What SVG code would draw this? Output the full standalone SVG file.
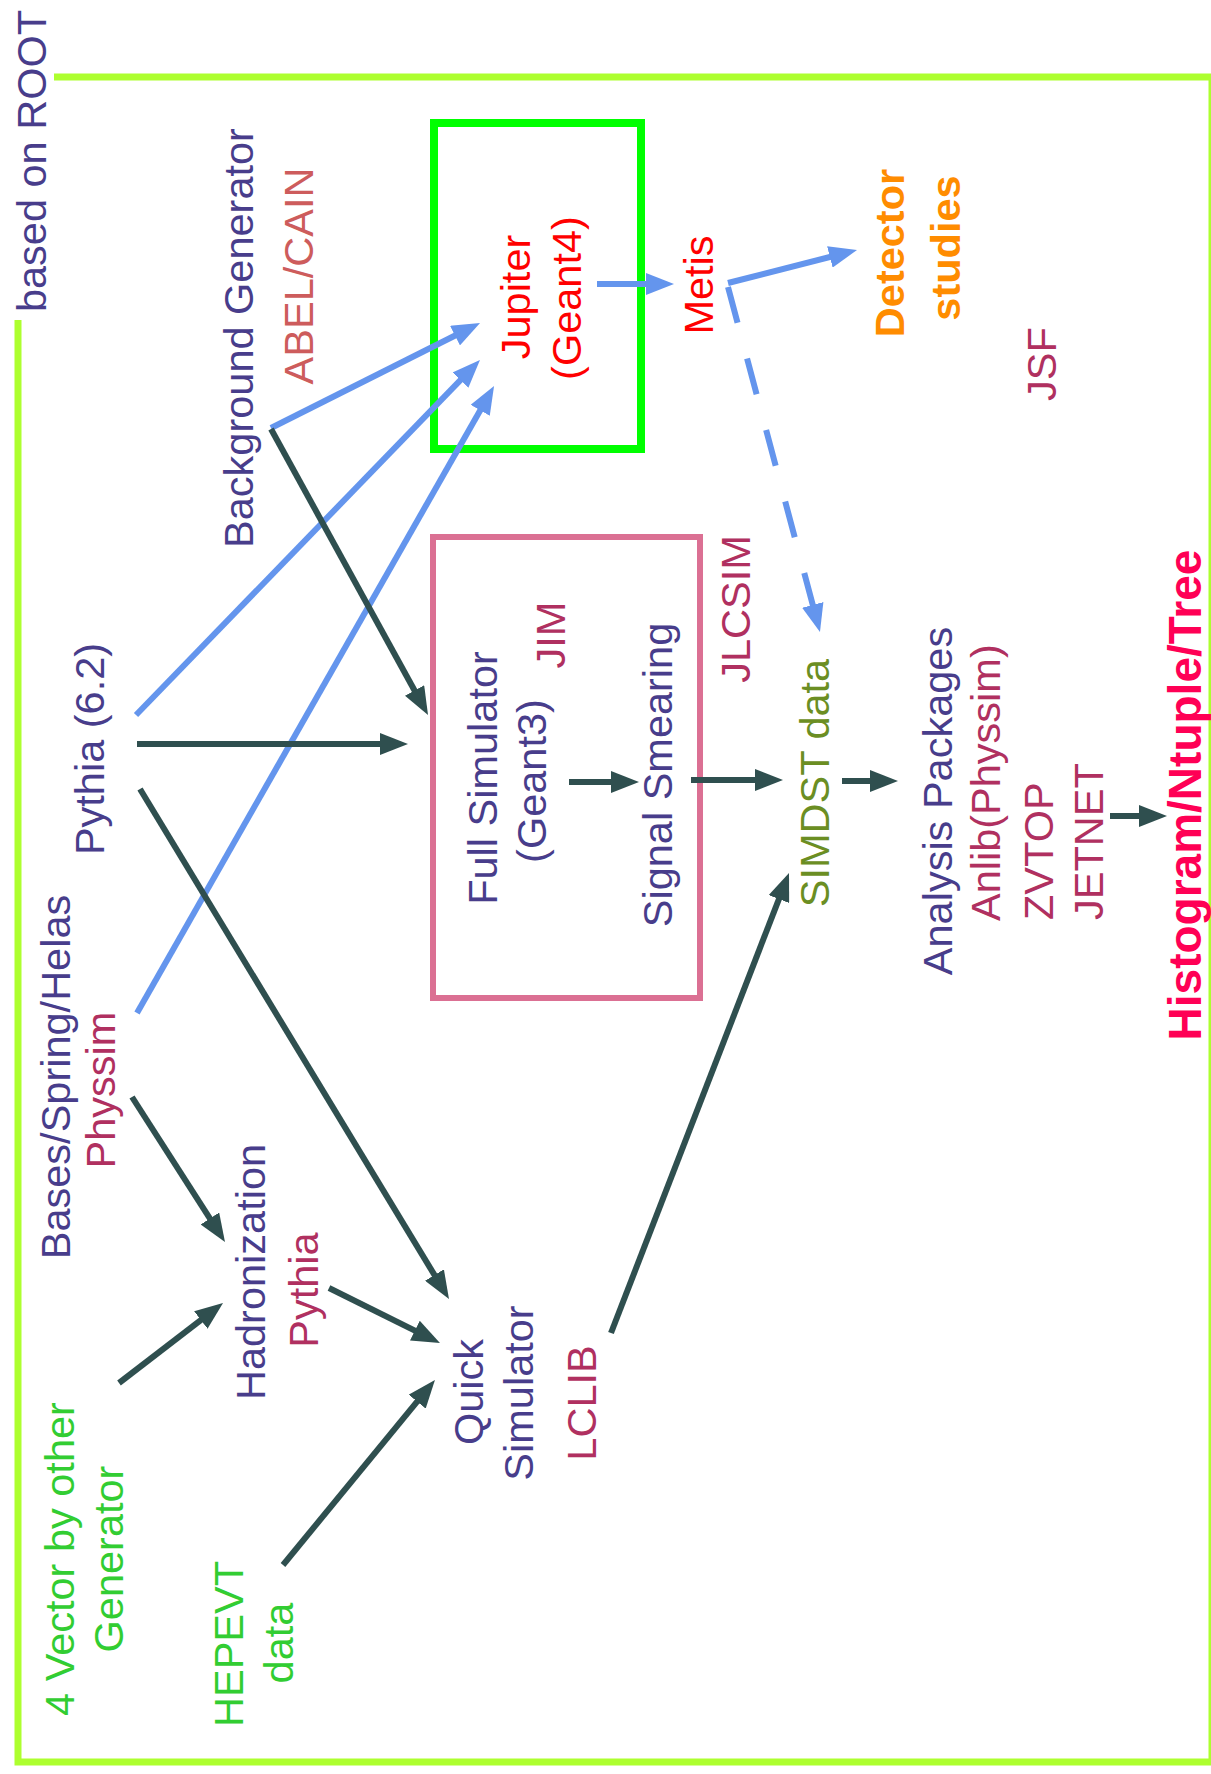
<svg xmlns="http://www.w3.org/2000/svg" width="1211" height="1774" viewBox="0 0 1211 1774">
<style>
text { font-family: "Liberation Sans", Arial, sans-serif; font-size: 41.5px; }
.t-slate { fill: #483d8b; }
.t-maroon { fill: #b03060; }
.t-red { fill: #ff0000; }
.t-indian { fill: #cd5c5c; }
.t-orange { fill: #ff8c00; font-weight: bold; }
.t-olive { fill: #6b8e23; }
.t-lime { fill: #32cd32; }
.t-hist { fill: #ff0055; font-weight: bold; font-size: 46px; }
.dark { stroke: #2f4f4f; stroke-width: 6; fill: none; marker-end: url(#ah-dark); }
.blue { stroke: #6495ed; stroke-width: 6; fill: none; marker-end: url(#ah-blue); }
.dash { stroke-dasharray: 37 37; }
.frame { stroke: #adff2f; stroke-width: 7; fill: none; }
</style>
<defs>
<marker id="ah-dark" markerUnits="userSpaceOnUse" markerWidth="28" markerHeight="22" refX="18" refY="11" orient="auto">
<path d="M0,0 L28,11 L0,22 z" fill="#2f4f4f"/>
</marker>
<marker id="ah-blue" markerUnits="userSpaceOnUse" markerWidth="28" markerHeight="22" refX="18" refY="11" orient="auto">
<path d="M0,0 L28,11 L0,22 z" fill="#6495ed"/>
</marker>
</defs>
<rect x="0" y="0" width="1211" height="1774" fill="#ffffff"/>

<g id="frame">
<path class="frame" d="M54,77 H1212 V1762 H18 V320"/>
<text class="t-slate" transform="translate(46,161) rotate(-90)" text-anchor="middle">based on ROOT</text>
</g>

<g id="jupiter-box">
<rect x="434" y="123" width="207" height="326" fill="none" stroke="#00ff00" stroke-width="8"/>
<text class="t-red" transform="translate(530,297) rotate(-90)" text-anchor="middle">Jupiter</text>
<text class="t-red" transform="translate(581,298) rotate(-90)" text-anchor="middle">(Geant4)</text>
</g>

<g id="jlcsim-box">
<rect x="433" y="537" width="267" height="461" fill="none" stroke="#db7093" stroke-width="6"/>
</g>

<g id="full-simulator">
<text class="t-slate" transform="translate(497,778) rotate(-90)" text-anchor="middle">Full Simulator</text>
<text class="t-slate" transform="translate(546,781) rotate(-90)" text-anchor="middle">(Geant3)</text>
<text class="t-maroon" transform="translate(565,635) rotate(-90)" text-anchor="middle">JIM</text>
</g>

<g id="signal-smearing">
<text class="t-slate" transform="translate(672,775) rotate(-90)" text-anchor="middle">Signal Smearing</text>
</g>

<g id="jlcsim-label">
<text class="t-maroon" transform="translate(750,609) rotate(-90)" text-anchor="middle">JLCSIM</text>
</g>

<g id="background-generator">
<text class="t-slate" transform="translate(253,338) rotate(-90)" text-anchor="middle">Background Generator</text>
<text class="t-indian" transform="translate(313,276) rotate(-90)" text-anchor="middle">ABEL/CAIN</text>
</g>

<g id="metis">
<text class="t-red" transform="translate(713,285) rotate(-90)" text-anchor="middle">Metis</text>
</g>

<g id="detector-studies">
<text class="t-orange" transform="translate(904,253) rotate(-90)" text-anchor="middle">Detector</text>
<text class="t-orange" transform="translate(960,248) rotate(-90)" text-anchor="middle">studies</text>
</g>

<g id="jsf">
<text class="t-maroon" transform="translate(1056,364) rotate(-90)" text-anchor="middle">JSF</text>
</g>

<g id="pythia62">
<text class="t-slate" transform="translate(104,749) rotate(-90)" text-anchor="middle">Pythia (6.2)</text>
</g>

<g id="bases">
<text class="t-slate" transform="translate(70,1077) rotate(-90)" text-anchor="middle">Bases/Spring/Helas</text>
<text class="t-maroon" transform="translate(115,1090) rotate(-90)" text-anchor="middle">Physsim</text>
</g>

<g id="hadronization">
<text class="t-slate" transform="translate(265,1272) rotate(-90)" text-anchor="middle">Hadronization</text>
<text class="t-maroon" transform="translate(318,1290) rotate(-90)" text-anchor="middle">Pythia</text>
</g>

<g id="four-vector">
<text class="t-lime" transform="translate(74,1559) rotate(-90)" text-anchor="middle">4 Vector by other</text>
<text class="t-lime" transform="translate(123,1559) rotate(-90)" text-anchor="middle">Generator</text>
</g>

<g id="hepevt">
<text class="t-lime" transform="translate(243,1644) rotate(-90)" text-anchor="middle">HEPEVT</text>
<text class="t-lime" transform="translate(293,1643) rotate(-90)" text-anchor="middle">data</text>
</g>

<g id="quick-simulator">
<text class="t-slate" transform="translate(483,1392) rotate(-90)" text-anchor="middle">Quick</text>
<text class="t-slate" transform="translate(533,1393) rotate(-90)" text-anchor="middle">Simulator</text>
<text class="t-maroon" transform="translate(596,1403) rotate(-90)" text-anchor="middle">LCLIB</text>
</g>

<g id="simdst">
<text class="t-olive" transform="translate(829,783) rotate(-90)" text-anchor="middle">SIMDST data</text>
</g>

<g id="analysis">
<text class="t-slate" transform="translate(952,801) rotate(-90)" text-anchor="middle">Analysis Packages</text>
<text class="t-maroon" transform="translate(1000,921) rotate(-90)" text-anchor="start">Anlib(Physsim)</text>
<text class="t-maroon" transform="translate(1053,920) rotate(-90)" text-anchor="start">ZVTOP</text>
<text class="t-maroon" transform="translate(1103,920) rotate(-90)" text-anchor="start">JETNET</text>
</g>

<g id="histogram">
<text class="t-hist" transform="translate(1201,795) rotate(-90)" text-anchor="middle">Histogram/Ntuple/Tree</text>
</g>

<g id="connectors">
<line class="blue" x1="271" y1="428" x2="471.1" y2="327.5"/>
<line class="blue" x1="136" y1="715" x2="473.0" y2="367.2"/>
<line class="blue" x1="137" y1="1013" x2="489.1" y2="394.7"/>
<line class="blue" x1="597" y1="284" x2="664" y2="284"/>
<line class="blue" x1="728" y1="283" x2="847.3" y2="252.5"/>
<line class="blue dash" x1="728" y1="287" x2="817.4" y2="622.3"/>
<line class="dark" x1="271" y1="429" x2="423.2" y2="706.2"/>
<line class="dark" x1="137" y1="744" x2="398" y2="744"/>
<line class="dark" x1="140" y1="789" x2="443.8" y2="1290.4"/>
<line class="dark" x1="132" y1="1097" x2="219.6" y2="1233.6"/>
<line class="dark" x1="119" y1="1383" x2="215.1" y2="1309.1"/>
<line class="dark" x1="329" y1="1288" x2="431" y2="1338.6"/>
<line class="dark" x1="283" y1="1565" x2="428.6" y2="1387.7"/>
<line class="dark" x1="611" y1="1333" x2="785.4" y2="882.3"/>
<line class="dark" x1="569" y1="782" x2="629" y2="782"/>
<line class="dark" x1="691" y1="780" x2="773" y2="780"/>
<line class="dark" x1="842" y1="781" x2="888" y2="781"/>
<line class="dark" x1="1110" y1="816" x2="1157" y2="816"/>
</g>
</svg>
